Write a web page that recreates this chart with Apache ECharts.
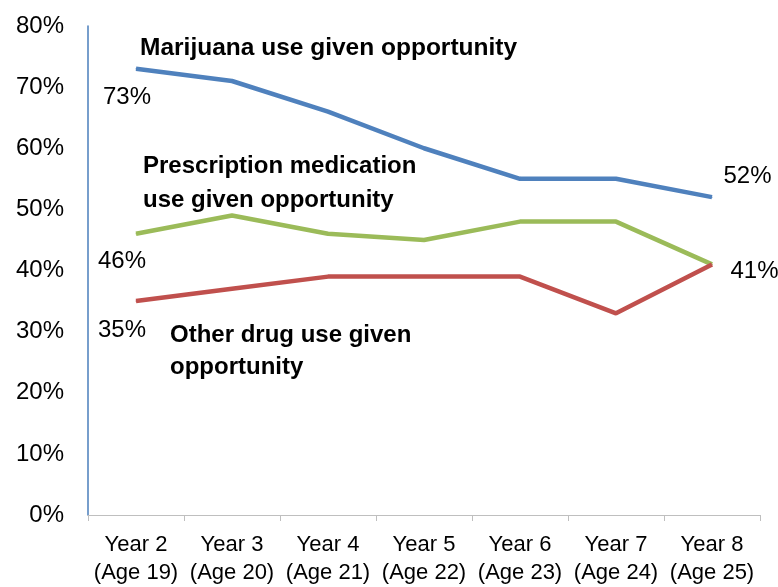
<!DOCTYPE html>
<html>
<head>
<meta charset="utf-8">
<script src="https://cdn.jsdelivr.net/npm/echarts@6/dist/echarts.min.js"></script>
<style>
  html, body { margin: 0; padding: 0; background: #fff; }
  #chart { width: 778px; height: 587px; }
</style>
</head>
<body>
<div id="chart"></div>
<script>
// 类别 / 数据
const years = ['Year 2', 'Year 3', 'Year 4', 'Year 5', 'Year 6', 'Year 7', 'Year 8'];
const ages = ['(Age 19)', '(Age 20)', '(Age 21)', '(Age 22)', '(Age 23)', '(Age 24)', '(Age 25)'];
const marijuana = [73, 71, 66, 60, 55, 55, 52];
const prescription = [46, 49, 46, 45, 48, 48, 41];
const otherDrug = [35, 37, 39, 39, 39, 33, 41];
const yTicks = [0, 10, 20, 30, 40, 50, 60, 70, 80];

const categories = years.map((y, i) => y + '\n' + ages[i]);

// 首尾数据标签
function withLabels(arr, firstLabel, lastLabel) {
    return arr.map((v, i) => {
        if (i === 0 && firstLabel) return { value: v, label: Object.assign({ show: true }, firstLabel) };
        if (i === arr.length - 1 && lastLabel) return { value: v, label: Object.assign({ show: true }, lastLabel) };
        return v;
    });
}

const labelText = {
    formatter: '{c}%',
    fontFamily: 'Liberation Sans',
    fontSize: 24,
    color: '#000'
};

let myChart = echarts.init(document.getElementById('chart'));

let option = {
    backgroundColor: '#fff',
    animation: false,
    grid: { left: 88, right: 18, top: 26, bottom: 67 },
    xAxis: {
        type: 'category',
        data: categories,
        boundaryGap: true,
        axisLine: { lineStyle: { color: '#bfbfbf', width: 1 } },
        axisTick: { show: true, length: 6, lineStyle: { color: '#bfbfbf' } },
        axisLabel: {
            color: '#000',
            fontFamily: 'Liberation Sans',
            fontSize: 22,
            lineHeight: 28,
            margin: 16,
            interval: 0
        }
    },
    yAxis: {
        type: 'value',
        min: 0,
        max: 80,
        interval: 10,
        axisLine: { show: true, lineStyle: { color: '#4a7ebb', width: 1.5 } },
        axisTick: { show: false },
        splitLine: { show: false },
        axisLabel: {
            color: '#000',
            fontFamily: 'Liberation Sans',
            fontSize: 24,
            margin: 24,
            formatter: v => yTicks.includes(v) ? v + '%' : ''
        }
    },
    graphic: [
        {
            type: 'text', left: 140, top: 36,
            style: { text: 'Marijuana use given opportunity', font: 'bold 24.5px "Liberation Sans"', fill: '#000' }
        },
        {
            type: 'text', left: 143, top: 149,
            style: { text: 'Prescription medication\nuse given opportunity', font: 'bold 24px "Liberation Sans"', lineHeight: 34, fill: '#000' }
        },
        {
            type: 'text', left: 170, top: 319,
            style: { text: 'Other drug use given\nopportunity', font: 'bold 24px "Liberation Sans"', lineHeight: 32, fill: '#000' }
        }
    ],
    series: [
        {
            name: 'Marijuana',
            type: 'line',
            data: withLabels(marijuana,
                Object.assign({ position: 'bottom', distance: 16, offset: [-9, 0] }, labelText),
                Object.assign({ position: 'right', distance: 11, offset: [0, -21] }, labelText)),
            symbol: 'circle',
            symbolSize: 1,
            lineStyle: { color: '#4f81bd', width: 4.5 },
            itemStyle: { color: '#4f81bd' }
        },
        {
            name: 'Prescription',
            type: 'line',
            data: withLabels(prescription,
                Object.assign({ position: 'bottom', distance: 15, offset: [-14, 0] }, labelText),
                Object.assign({ position: 'right', distance: 18, offset: [0, 7] }, labelText)),
            symbol: 'circle',
            symbolSize: 1,
            lineStyle: { color: '#9bbb59', width: 4.5 },
            itemStyle: { color: '#9bbb59' }
        },
        {
            name: 'Other',
            type: 'line',
            data: withLabels(otherDrug,
                Object.assign({ position: 'bottom', distance: 17, offset: [-14, 0] }, labelText),
                null),
            symbol: 'circle',
            symbolSize: 1,
            lineStyle: { color: '#c0504d', width: 4.5 },
            itemStyle: { color: '#c0504d' }
        }
    ]
};
myChart.setOption(option);
window.addEventListener('resize', function () {
    setTimeout(function () {
        myChart.resize();
    }, 100);
});
</script>
</body>
</html>
